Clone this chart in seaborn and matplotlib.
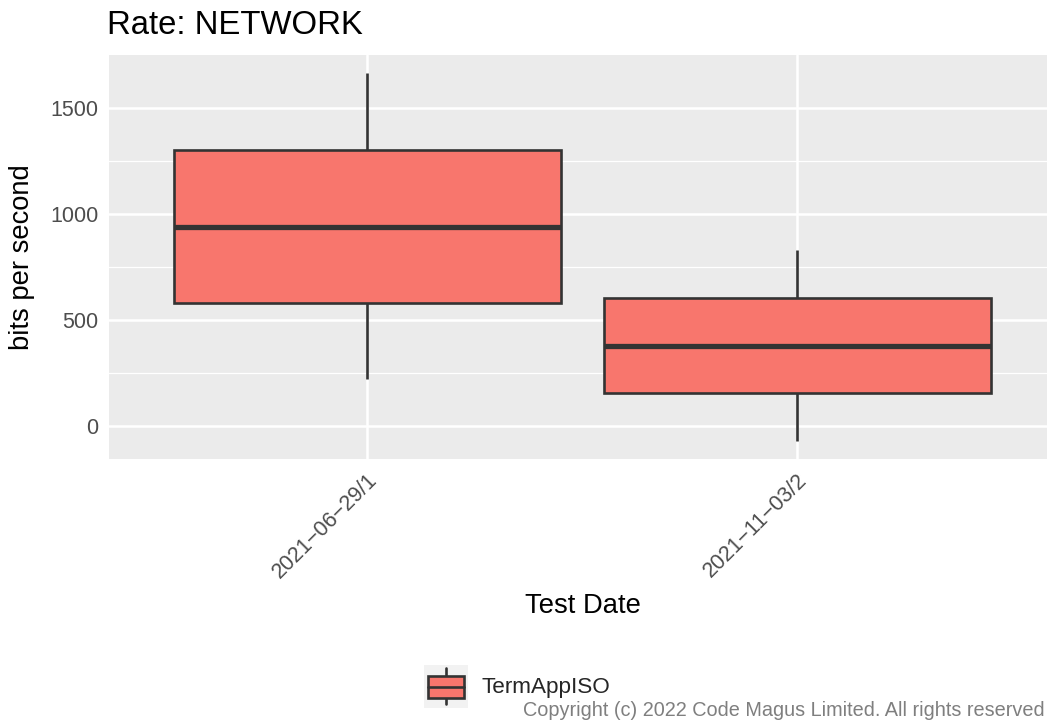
import numpy as np
import pandas as pd
import matplotlib
matplotlib.use('Agg')
import matplotlib.pyplot as plt
import seaborn as sns
from matplotlib.legend_handler import HandlerBase
from matplotlib.patches import Rectangle, Patch
from matplotlib.lines import Line2D
from matplotlib.ticker import MultipleLocator

#%%
# data: lower whisker, Q1, median, Q3, upper whisker
test_dates = ["2021\u221206\u221229/1", "2021\u221211\u221203/2"]
rate_0629 = [220, 577, 939, 1300, 1662]
rate_1103 = [-71, 154, 377, 604, 829]
series_name = "TermAppISO"

df = pd.DataFrame({
    "Test Date": [test_dates[0]] * len(rate_0629) + [test_dates[1]] * len(rate_1103),
    "bits per second": rate_0629 + rate_1103,
})

#%%
sns.set_theme(style="darkgrid")
plt.rcParams['font.family'] = ['Liberation Sans', 'DejaVu Sans']

fill = "#F8766D"
edge = "#333333"

fig = plt.figure(figsize=(10.47, 7.27), dpi=100)
W, H = 1047, 727
# panel runs a little past the right edge of the picture, as in the reference
ax = fig.add_axes([109 / W, 1 - 459 / H, (1055 - 109) / W, (459 - 55) / H])
ax.set_facecolor("#EBEBEB")

sns.boxplot(data=df, x="Test Date", y="bits per second", color=fill, saturation=1,
            width=0.9, whis=1.5, showcaps=False, linecolor=edge, linewidth=1.9,
            medianprops={"linewidth": 3.8, "color": edge}, ax=ax)

# ggplot style 5% expansion
lo = min(df["bits per second"])
hi = max(df["bits per second"])
pad = (hi - lo) * 0.05
ax.set_ylim(lo - pad, hi + pad)
ax.set_xlim(-0.6, 1.6)

ax.set_yticks([0, 500, 1000, 1500])
ax.yaxis.set_minor_locator(MultipleLocator(250))
ax.xaxis.set_minor_locator(plt.NullLocator())
ax.grid(which="major", color="white", linewidth=1.8)
ax.grid(which="minor", axis="y", color="white", linewidth=0.9)
ax.set_axisbelow(True)
for s in ax.spines.values():
    s.set_visible(False)

ax.tick_params(axis="both", which="major", length=4.5, width=1.6, color=edge,
               labelcolor="#4D4D4D", labelsize=15.5, pad=3)
ax.tick_params(axis="y", which="minor", length=0)
ax.set_xlabel("")
ax.set_ylabel("")
plt.setp(ax.get_xticklabels(), rotation=45, ha="right", va="top", rotation_mode="anchor")

fig.text(107 / W, 1 - 25 / H, "Rate: NETWORK", fontsize=23.7, va="center", ha="left", color="black")
fig.text(583 / W, 1 - 606 / H, "Test Date", fontsize=19.7, va="center", ha="center", color="black")
fig.text(22 / W, 1 - 257 / H, "bits per second", fontsize=19.7, va="center", ha="center",
         rotation=90, color="black")
fig.text(1045 / W, 1 - 710 / H, "Copyright (c) 2022 Code Magus Limited. All rights reserved",
         fontsize=14.3, va="center", ha="right", color="#7F7F7F")


#%%
# legend key that looks like a little boxplot
class BoxKey(HandlerBase):
    def create_artists(self, legend, orig_handle, xdescent, ydescent, width, height, fontsize, trans):
        x0, y0 = -xdescent, -ydescent
        bg = Rectangle((x0, y0), width, height, facecolor="#F2F2F2", edgecolor="none", transform=trans)
        xc = x0 + width / 2
        wh = Line2D([xc, xc], [y0 + 0.09 * height, y0 + 0.93 * height], color=edge, lw=1.9, transform=trans)
        box = Rectangle((x0 + 0.09 * width, y0 + 0.24 * height), 0.82 * width, 0.5 * height,
                        facecolor=orig_handle.get_facecolor(), edgecolor=edge, lw=1.9, transform=trans)
        med = Line2D([x0 + 0.09 * width, x0 + 0.91 * width], [y0 + 0.49 * height] * 2,
                     color=edge, lw=1.9, transform=trans)
        return [bg, wh, box, med]


fs_leg = 16.2
px = fs_leg * 100 / 72
# matplotlib takes off a descent from the key height, so solve for a 43 px key
key_h = (43 / px - 0.245) / 0.65
handle = Patch(facecolor=fill, edgecolor=edge)
fig.legend([handle], [series_name], handler_map={Patch: BoxKey()}, loc="center left",
           bbox_to_anchor=(424 / W, 1 - 686.5 / H), frameon=False, borderpad=0, borderaxespad=0,
           fontsize=fs_leg, handlelength=44 / px, handleheight=key_h, handletextpad=14 / px)

fig.savefig("out.png", dpi=100)
